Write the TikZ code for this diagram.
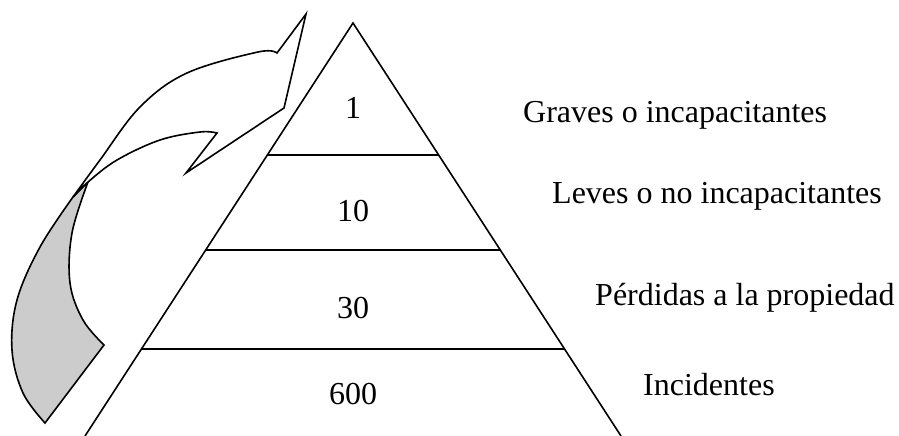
\documentclass[tikz,border=0pt]{standalone}
\usepackage{fontspec}
\setmainfont{Liberation Serif}
\begin{document}
\begin{tikzpicture}[x=1pt,y=-1pt,
  lbl/.style={inner sep=0pt,anchor=base west,font=\fontsize{32}{38}\selectfont},
  num/.style={inner sep=0pt,anchor=base,font=\fontsize{32}{38}\selectfont},
  ln/.style={line width=1.6pt,line join=miter},
  back/.style={ln,fill=black!20},
  front/.style={ln,fill=white}]
\useasboundingbox (0,0) rectangle (899,436);
% curved arrow: back (shaded) part
\filldraw[back] plot[smooth,tension=0.6] coordinates {(73,197) (40,247) (17,300) (12,350) (23,393) (45,423)}
  -- plot[smooth,tension=0.6] coordinates {(104,345) (83,320) (70,283) (72,233) (88,182)}
  -- (73,197) -- cycle;
% curved arrow: front part
\filldraw[front] (277,53) -- (306,14) -- (284,108) -- (186,173) -- (217,133)
  -- plot[smooth,tension=0.6] coordinates {(217,133) (200,132) (160,140) (117,160) (88,182) (73,197)}
  -- plot[smooth,tension=0.6] coordinates {(73,197) (100,160) (140,107) (187,73) (258,52) (277,53)}
  -- cycle;
% pyramid
\coordinate (apex) at (353,23);
\coordinate (bl) at (85,436);
\coordinate (br) at (621,436);
\coordinate (l1) at (267.5,155); \coordinate (r1) at (438.5,155);
\coordinate (l2) at (206,250);   \coordinate (r2) at (500,250);
\coordinate (l3) at (142,349);   \coordinate (r3) at (564,349);
\draw[ln] (bl) -- (apex) -- (br);
\draw[ln] (l1) -- (r1);
\draw[ln] (l2) -- (r2);
\draw[ln] (l3) -- (r3);
% numbers
\node[num] (n1) at (353,118) {1};
\node[num] (n2) at (353,221) {10};
\node[num] (n3) at (353,318) {30};
\node[num] (n4) at (353,404) {600};
% labels
\node[lbl] (t1) at (523,122) {Graves o incapacitantes};
\node[lbl] (t2) at (552,203) {Leves o no incapacitantes};
\node[lbl] (t3) at (595,305) {Pérdidas a la propiedad};
\node[lbl] (t4) at (643,395) {Incidentes};
\end{tikzpicture}
\end{document}
